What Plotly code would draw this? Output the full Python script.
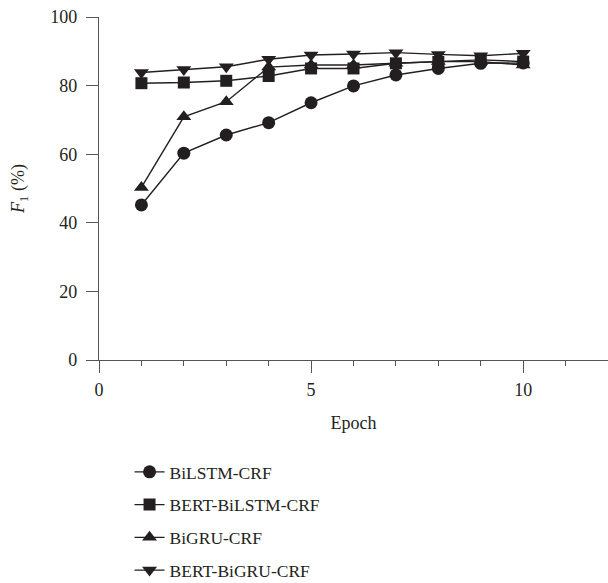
import plotly.graph_objects as go

epochs = [1, 2, 3, 4, 5, 6, 7, 8, 9, 10]
bilstm_crf = [45.2, 60.3, 65.6, 69.2, 75.0, 79.9, 83.1, 85.0, 86.5, 86.6]
bert_bilstm_crf = [80.7, 80.9, 81.4, 82.8, 85.0, 85.0, 86.5, 86.9, 87.5, 87.0]
bigru_crf = [50.3, 70.9, 75.3, 85.4, 86.0, 86.0, 86.5, 87.0, 87.0, 86.0]
bert_bigru_crf = [83.8, 84.7, 85.5, 87.7, 88.9, 89.2, 89.6, 89.1, 88.7, 89.4]

series = [
    ("BiLSTM-CRF", bilstm_crf, "circle", 13),
    ("BERT-BiLSTM-CRF", bert_bilstm_crf, "square", 12),
    ("BiGRU-CRF", bigru_crf, "triangle-up", 13),
    ("BERT-BiGRU-CRF", bert_bigru_crf, "triangle-down", 13),
]

ink = "#231f20"
font_family = "Liberation Serif"

fig = go.Figure()
for i, (name, vals, sym, sz) in enumerate(series):
    fig.add_trace(go.Scatter(
        x=epochs, y=vals, name=name, mode="lines+markers",
        line=dict(color=ink, width=1.4),
        marker=dict(symbol=sym, size=sz, color=ink),
        legendgroup="g%d" % i,
    ))

fig.update_layout(
    width=608, height=583,
    margin=dict(l=99, r=0, t=17, b=223, autoexpand=False),
    paper_bgcolor="white", plot_bgcolor="white",
    font=dict(family=font_family, size=18, color="#231f20"),
    showlegend=True,
    legend=dict(
        x=0.06, y=-0.274, xanchor="left", yanchor="top",
        font=dict(family=font_family, size=17.5, color="#231f20"),
        tracegroupgap=7, bgcolor="rgba(0,0,0,0)",
    ),
    xaxis=dict(
        range=[0, 12], tickvals=[0, 5, 10], ticks="outside", ticklen=12,
        tickwidth=1.3, tickcolor="#555", showline=True, linecolor="#555",
        linewidth=1.3, showgrid=False, zeroline=False, automargin=False,
        minor=dict(dtick=1, ticks="outside", ticklen=5, tickwidth=1.3, tickcolor="#555", showgrid=False),
        title=dict(text="Epoch", font=dict(size=18), standoff=17),
        tickfont=dict(size=18), ticklabelstandoff=1,
    ),
    yaxis=dict(
        range=[0, 100], tickvals=[0, 20, 40, 60, 80, 100], ticks="outside",
        ticklen=12, tickwidth=1.3, tickcolor="#555", showline=True,
        linecolor="#555", linewidth=1.3, showgrid=False, zeroline=False,
        automargin=False,
        title=dict(text="<i>F</i><sub>1</sub> (%)", font=dict(size=18), standoff=20),
        tickfont=dict(size=18), ticklabelstandoff=5,
    ),
)

fig.write_html("out.html")
